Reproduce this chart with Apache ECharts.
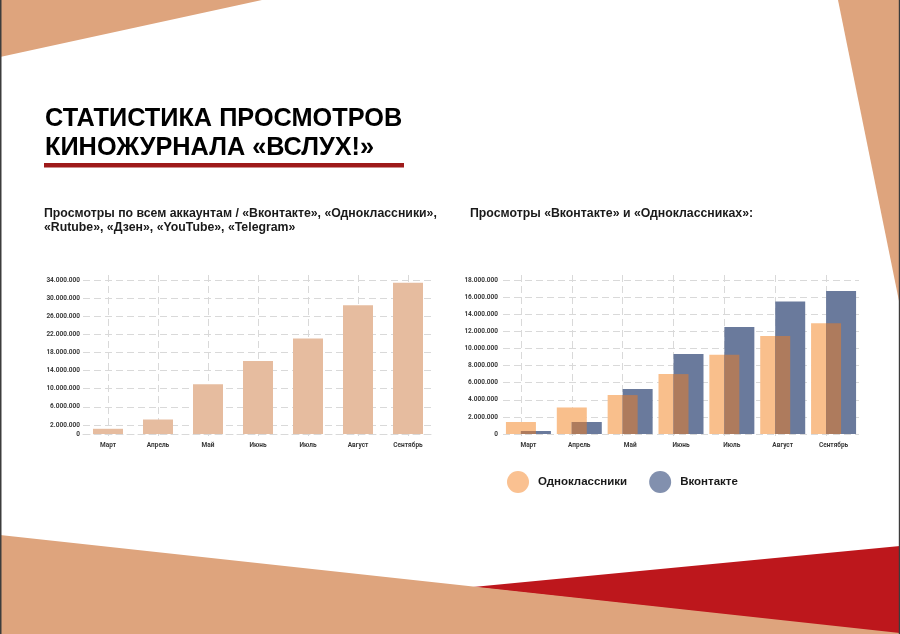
<!DOCTYPE html>
<html>
<head>
<meta charset="utf-8">
<script src="https://cdn.jsdelivr.net/npm/echarts@6/dist/echarts.min.js"></script>
<style>
  html, body { margin: 0; padding: 0; background: #fff; }
  #chart { width: 900px; height: 634px; }
</style>
</head>
<body>
<div id="chart"></div>
<script>
// months on both charts
var months = ['Март', 'Апрель', 'Май', 'Июнь', 'Июль', 'Август', 'Сентябрь'];

// left chart: views over all accounts
var totalViews = [1150000, 3200000, 11000000, 16100000, 21100000, 28400000, 33400000];
var totalTicks = [0, 2000000, 6000000, 10000000, 14000000, 18000000, 22000000, 26000000, 30000000, 34000000];

// right chart: Одноклассники / Вконтакте
var okViews = [1400000, 3100000, 4550000, 7000000, 9250000, 11450000, 12950000];
var vkViews = [350000, 1400000, 5250000, 9350000, 12500000, 15500000, 16700000];
var overlapViews = okViews.map(function (v, i) { return Math.min(v, vkViews[i]); });

var gridColor = '#d9d9d9';
var dash = [7, 4];
var labelFont = { fontFamily: 'Roboto', fontWeight: 'bold', fontSize: 6.5, color: '#3a3a3a' };
var headFont = 'bold 12.3px "Liberation Sans", Arial, sans-serif';
var titleFont = 'bold 26px "Liberation Sans", Arial, sans-serif';

function fmt(v) {
    return String(v).replace(/\B(?=(\d{3})+(?!\d))/g, '.');
}

function helperX(grid) {
    return {
        type: 'category', gridIndex: grid, data: months, boundaryGap: false,
        axisLine: { show: false }, axisTick: { show: false }, axisLabel: { show: false },
        splitLine: { show: true, interval: 0, lineStyle: { color: gridColor, type: dash } }
    };
}
function helperY(grid) {
    return { type: 'value', gridIndex: grid, min: 0, max: 1, show: false, splitLine: { show: false } };
}

var chart = echarts.init(document.getElementById('chart'));

chart.setOption({
    animation: false,
    backgroundColor: '#fff',
    graphic: [
        // slide decorations
        { type: 'polygon', shape: { points: [[0, 0], [262, 0], [0, 57]] }, style: { fill: '#dea47d' } },
        { type: 'polygon', shape: { points: [[838, 0], [900, 0], [900, 306]] }, style: { fill: '#dea47d' } },
        { type: 'polygon', shape: { points: [[473, 587], [900, 546], [900, 634]] }, style: { fill: '#bd171c' } },
        { type: 'polygon', shape: { points: [[0, 535], [900, 633], [900, 634], [0, 634]] }, style: { fill: '#dea47d' } },
        { type: 'rect', shape: { x: 0, y: 0, width: 1.5, height: 634 }, style: { fill: '#3c3c3c' } },
        { type: 'rect', shape: { x: 898.8, y: 0, width: 1.2, height: 634 }, style: { fill: '#3c3c3c' } },
        // title
        { type: 'text', x: 45, y: 119, scaleX: 0.973,
          style: { text: 'СТАТИСТИКА ПРОСМОТРОВ', font: titleFont, fill: '#000', verticalAlign: 'middle' } },
        { type: 'text', x: 45, y: 148, scaleX: 0.973,
          style: { text: 'КИНОЖУРНАЛА «ВСЛУХ!»', font: titleFont, fill: '#000', verticalAlign: 'middle' } },
        { type: 'rect', shape: { x: 44, y: 163, width: 360, height: 4.5 }, style: { fill: '#9e1a1a' } },
        // chart headings
        { type: 'text', x: 44, y: 213.5,
          style: { text: 'Просмотры по всем аккаунтам / «Вконтакте», «Одноклассники»,', font: headFont, fill: '#1a1a1a', verticalAlign: 'middle' } },
        { type: 'text', x: 44, y: 227.5,
          style: { text: '«Rutube», «Дзен», «YouTube», «Telegram»', font: headFont, fill: '#1a1a1a', verticalAlign: 'middle' } },
        { type: 'text', x: 470, y: 213.5,
          style: { text: 'Просмотры «Вконтакте» и «Одноклассниках»:', font: headFont, fill: '#1a1a1a', verticalAlign: 'middle' } }
    ],
    legend: {
        left: 507, top: 471, padding: 0,
        icon: 'circle', itemWidth: 22, itemHeight: 22, itemGap: 22,
        textStyle: { fontFamily: 'Liberation Sans', fontWeight: 'bold', fontSize: 11.5, color: '#1a1a1a', padding: [0, 0, 0, 4] },
        data: [
            { name: 'Одноклассники', itemStyle: { color: '#fac191' } },
            { name: 'Вконтакте', itemStyle: { color: '#8290ae' } }
        ]
    },
    grid: [
        { left: 83, top: 280, width: 350, height: 154 },
        { left: 108, top: 275, width: 300, height: 163 },
        { left: 503, top: 280, width: 356, height: 154 },
        { left: 521, top: 275, width: 305, height: 165 }
    ],
    xAxis: [
        {
            type: 'category', gridIndex: 0, data: months,
            axisLine: { show: true, lineStyle: { color: gridColor, type: dash } },
            axisTick: { show: false },
            axisLabel: Object.assign({ interval: 0, margin: 8 }, labelFont),
            splitLine: { show: false }
        },
        helperX(1),
        {
            type: 'category', gridIndex: 2, data: months,
            axisLine: { show: false }, axisTick: { show: false },
            axisLabel: Object.assign({ interval: 0, margin: 8 }, labelFont),
            splitLine: { show: false }
        },
        {
            type: 'category', gridIndex: 2, data: months, show: false
        },
        helperX(3)
    ],
    yAxis: [
        {
            type: 'value', gridIndex: 0, min: 0, max: 34000000, interval: 2000000,
            axisLine: { show: false }, axisTick: { show: false },
            axisLabel: Object.assign({
                margin: 3,
                formatter: function (v) { return totalTicks.indexOf(v) >= 0 ? fmt(v) : ''; }
            }, labelFont),
            splitLine: { show: true, lineStyle: { color: ['rgba(0,0,0,0)', gridColor], type: dash } }
        },
        helperY(1),
        {
            type: 'value', gridIndex: 2, min: 0, max: 18000000, interval: 2000000,
            axisLine: { show: false }, axisTick: { show: false },
            axisLabel: Object.assign({ margin: 5, formatter: fmt }, labelFont),
            splitLine: { show: true, lineStyle: { color: gridColor, type: dash } }
        },
        helperY(3)
    ],
    series: [
        {
            name: 'Все аккаунты', type: 'bar', xAxisIndex: 0, yAxisIndex: 0,
            data: totalViews, barWidth: 30, itemStyle: { color: '#e6bc9f' }
        },
        {
            name: 'Одноклассники', type: 'bar', xAxisIndex: 2, yAxisIndex: 2,
            data: okViews, barWidth: 30, barGap: '-50%', itemStyle: { color: '#f9bf8c' }
        },
        {
            name: 'Вконтакте', type: 'bar', xAxisIndex: 2, yAxisIndex: 2,
            data: vkViews, barWidth: 30, barGap: '-50%', itemStyle: { color: '#6a7a9c' }
        },
        {
            name: 'Пересечение', type: 'bar', xAxisIndex: 3, yAxisIndex: 2,
            data: overlapViews, barWidth: 15, z: 3, itemStyle: { color: '#ae7b5d' }
        }
    ]
});
</script>
</body>
</html>
